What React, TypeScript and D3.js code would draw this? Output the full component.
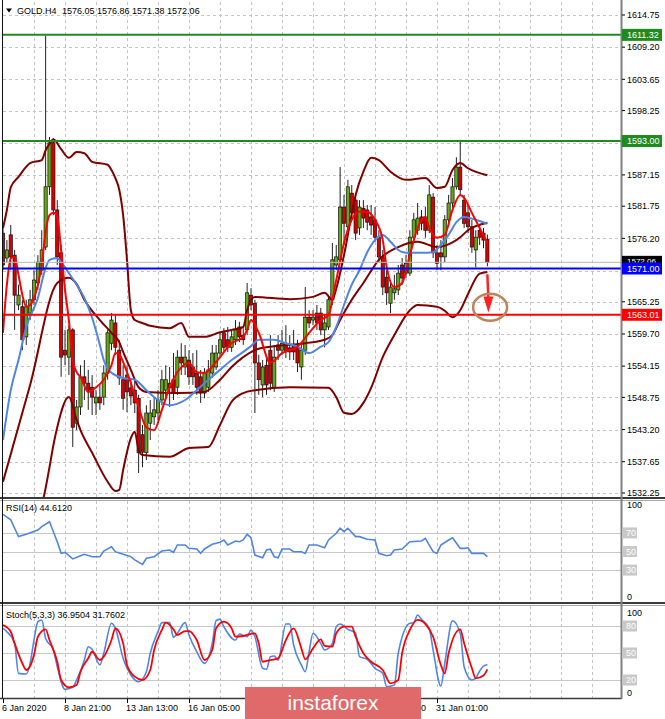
import React from 'react';
import * as d3 from 'd3';

// ---------- DATA ----------
const opens = [1577.1,1572.8,1576.8,1573.3,1564.7,1564.4,1559.2,1563.3,1565.6,1568.5,1570.7,1574.7,1585.1,1592.7,1581.1,1573.7,1556.9,1555.7,1560.4,1544.3,1547.1,1552.3,1551.2,1550.5,1547.8,1548.8,1548.8,1552.96,1558.1,1561.6,1556.9,1551.8,1552.6,1550.4,1550.0,1548.6,1542.3,1539.2,1544.3,1545.4,1546.06,1548.3,1550.0,1551.2,1551.8,1550.5,1555.7,1554.0,1555.2,1554.0,1552.96,1552.3,1549.5,1550.5,1552.96,1554.0,1556.4,1559.9,1558.7,1557.4,1558.7,1560.9,1559.5,1560.4,1566.4,1565.0,1554.7,1550.9,1554.3,1556.9,1550.5,1557.8,1556.9,1558.1,1557.3,1557.6,1557.3,1554.0,1556.9,1562.6,1562.1,1563.3,1563.3,1560.4,1560.9,1565.6,1571.6,1572.5,1581.6,1578.2,1584.0,1582.8,1578.0,1581.4,1581.1,1579.9,1579.4,1576.4,1573.0,1569.5,1565.0,1566.8,1567.3,1571.6,1570.2,1570.2,1576.4,1577.6,1579.9,1579.9,1577.6,1583.3,1573.7,1573.7,1573.0,1579.4,1582.3,1585.1,1588.5,1582.8,1580.6,1578.2,1574.2,1577.6,1577.1,1576.05];
const highs = [1578.0,1575.9,1578.5,1574.2,1568.2,1565.6,1565.6,1567.3,1570.7,1573.3,1577.6,1611.2,1593.7,1593.5,1582.8,1575.05,1560.4,1561.2,1560.7,1548.3,1554.3,1555.2,1553.5,1552.6,1550.0,1550.9,1554.3,1560.4,1563.3,1563.0,1558.7,1554.3,1554.3,1551.8,1551.8,1549.2,1544.0,1547.4,1548.3,1548.8,1550.0,1553.5,1554.3,1554.0,1556.4,1556.9,1558.1,1557.8,1556.9,1556.4,1556.9,1553.5,1553.8,1555.2,1557.8,1557.8,1559.9,1560.7,1560.9,1560.4,1562.1,1561.8,1560.7,1568.5,1567.6,1565.6,1556.1,1555.2,1555.6,1559.5,1557.8,1559.5,1560.4,1561.2,1559.5,1560.4,1558.7,1557.8,1567.8,1563.8,1563.8,1564.7,1564.2,1563.0,1566.4,1575.4,1575.05,1588.5,1583.7,1586.3,1585.4,1583.7,1582.8,1582.8,1581.96,1581.96,1581.6,1577.6,1574.2,1570.7,1569.0,1569.9,1571.6,1572.8,1573.3,1577.6,1580.6,1582.3,1581.1,1581.6,1585.4,1584.0,1575.05,1575.9,1580.2,1583.7,1586.6,1590.2,1593.2,1583.7,1581.96,1579.4,1577.6,1578.5,1578.0,1576.86];
const lows = [1570.7,1572.1,1570.7,1560.4,1563.8,1556.9,1557.8,1562.1,1564.7,1567.3,1569.9,1574.2,1583.7,1580.2,1571.6,1552.3,1554.3,1552.6,1540.2,1543.1,1545.7,1548.3,1546.6,1545.7,1545.7,1546.6,1547.4,1551.8,1556.9,1556.07,1550.9,1546.6,1546.2,1547.4,1546.06,1535.7,1536.7,1537.95,1541.4,1544.0,1544.85,1547.4,1548.3,1547.1,1548.3,1549.2,1552.6,1552.6,1550.9,1550.9,1549.2,1547.8,1548.6,1549.7,1552.1,1553.5,1555.7,1556.6,1556.6,1556.6,1557.8,1558.3,1557.8,1559.5,1563.8,1546.06,1549.2,1548.8,1549.2,1550.0,1549.7,1555.2,1556.07,1555.55,1555.2,1555.2,1553.13,1551.8,1556.07,1560.7,1561.2,1560.4,1559.5,1557.4,1560.4,1564.7,1570.7,1572.1,1575.05,1577.3,1579.4,1575.9,1576.8,1578.0,1577.6,1576.8,1575.6,1572.1,1566.4,1564.7,1563.3,1565.6,1566.4,1568.2,1569.36,1569.7,1575.9,1576.8,1577.6,1576.3,1577.1,1572.8,1570.7,1570.7,1572.1,1578.5,1581.4,1584.6,1583.7,1578.0,1577.1,1573.7,1571.2,1575.05,1574.5,1571.38];
const closes = [1571.6,1574.2,1573.0,1566.4,1566.4,1558.7,1564.4,1565.6,1569.0,1572.1,1574.2,1585.1,1592.7,1581.1,1573.0,1555.7,1556.07,1560.4,1543.6,1547.1,1552.3,1551.2,1550.0,1548.8,1548.8,1547.8,1552.96,1559.9,1562.1,1557.4,1552.1,1548.6,1549.7,1549.0,1547.8,1539.2,1539.3,1546.06,1546.06,1546.6,1548.3,1551.8,1551.8,1550.4,1549.5,1555.7,1554.7,1555.7,1552.3,1552.3,1550.5,1549.5,1552.96,1553.5,1556.4,1556.4,1558.7,1557.4,1557.4,1559.2,1560.4,1559.2,1558.7,1566.8,1564.7,1554.7,1551.8,1554.0,1550.9,1551.2,1555.7,1556.9,1558.1,1556.6,1556.6,1556.6,1554.7,1556.9,1562.6,1561.6,1562.6,1561.6,1560.4,1561.6,1565.6,1572.5,1573.0,1581.6,1578.8,1585.1,1580.6,1577.1,1581.6,1579.7,1579.0,1578.5,1576.4,1573.0,1567.8,1566.8,1567.8,1567.5,1570.2,1569.36,1571.9,1576.4,1579.4,1579.7,1578.8,1577.6,1583.7,1573.7,1571.9,1573.0,1579.4,1582.3,1585.1,1588.5,1584.6,1578.8,1578.2,1574.7,1576.4,1576.4,1575.9,1572.06];

// Indicator series: [bar index, value]
const bbUpper = [[0,1578.0],[1,1581.1],[2,1585.0],[4,1586.8],[7,1589.2],[10,1589.7],[11,1591.4],[12,1592.5],[13,1593.3],[15,1591.6],[17,1590.1],[19,1591.1],[21,1590.9],[23,1589.4],[27,1588.9],[28,1588.0],[29,1586.6],[30,1584.6],[31,1580.2],[32,1572.5],[33,1563.8],[34,1562.1],[36,1561.6],[38,1561.1],[43,1560.7],[46,1561.6],[48,1559.2],[52,1559.2],[56,1560.0],[59,1560.4],[62,1560.9],[63,1563.8],[64,1565.6],[65,1566.1],[74,1565.7],[80,1566.1],[83,1566.8],[85,1565.6],[86,1567.5],[88,1573.3],[91,1583.7],[93,1587.7],[95,1590.1],[97,1589.7],[100,1587.7],[104,1586.3],[109,1586.6],[112,1584.9],[114,1585.1],[116,1588.0],[118,1589.2],[120,1588.3],[125,1587.1]];
const bbMiddle = [[0,1534.2],[7,1550.9],[14,1568.5],[17,1569.4],[19,1568.3],[21,1565.6],[25,1562.1],[28,1559.9],[30,1558.3],[31,1556.6],[33,1553.5],[35,1550.5],[37,1549.7],[45,1549.5],[52,1549.7],[56,1551.8],[59,1554.0],[62,1555.7],[65,1556.9],[69,1557.5],[78,1558.1],[83,1558.7],[85,1559.5],[87,1562.1],[90,1565.6],[93,1568.5],[97,1572.5],[102,1574.7],[107,1575.6],[112,1574.7],[116,1575.5],[118,1576.4],[120,1577.6],[125,1578.9]];
const bbLower = [[10,1530.0],[11,1533.1],[12,1536.7],[13,1540.5],[14,1543.6],[17,1548.8],[19,1544.9],[20,1543.1],[23,1539.2],[27,1534.2],[29,1532.6],[30,1532.8],[31,1536.2],[33,1541.7],[34,1542.8],[35,1539.7],[36,1538.8],[43,1538.5],[48,1540.0],[53,1540.2],[56,1544.0],[59,1548.0],[62,1549.5],[65,1550.0],[74,1550.5],[84,1550.4],[86,1548.8],[88,1546.1],[90,1545.9],[93,1547.8],[95,1550.4],[98,1555.7],[101,1559.5],[105,1563.8],[107,1564.7],[112,1564.4],[114,1563.7],[116,1562.6],[118,1563.8],[120,1566.6],[123,1570.1],[125,1570.4]];
const maBlue = [[0,1541.4],[2,1550.0],[4,1555.2],[6,1560.9],[9,1565.9],[11,1571.1],[12,1572.5],[14,1572.8],[15,1572.1],[17,1570.2],[19,1568.2],[21,1565.9],[23,1562.5],[25,1557.8],[26,1555.2],[28,1553.0],[31,1552.1],[34,1551.8],[37,1550.0],[40,1548.3],[43,1547.4],[47,1548.3],[50,1550.0],[53,1551.8],[56,1553.5],[59,1555.2],[62,1556.6],[64,1557.6],[66,1558.7],[70,1558.7],[73,1558.1],[76,1557.5],[79,1556.4],[82,1557.5],[84,1558.3],[86,1560.9],[88,1564.7],[90,1568.2],[92,1570.7],[94,1573.8],[96,1575.9],[98,1576.8],[100,1575.6],[102,1574.2],[104,1573.7],[108,1573.7],[111,1573.8],[113,1575.1],[115,1576.8],[117,1579.0],[119,1579.9],[122,1579.4],[125,1578.7]];
const maRed = [[0,1559.9],[1,1568.2],[2,1572.8],[3,1573.0],[4,1569.9],[5,1566.4],[6,1564.4],[7,1564.7],[8,1565.9],[9,1568.2],[10,1571.6],[11,1577.3],[12,1580.2],[13,1580.6],[14,1579.9],[15,1574.2],[16,1567.3],[17,1562.1],[18,1555.2],[19,1553.1],[20,1552.3],[22,1549.7],[24,1550.5],[26,1551.8],[28,1554.3],[29,1556.4],[30,1556.1],[32,1553.1],[34,1549.2],[35,1547.1],[37,1543.6],[39,1543.1],[41,1546.6],[43,1550.5],[45,1553.1],[48,1554.7],[50,1553.1],[52,1553.0],[55,1554.9],[59,1558.1],[62,1559.2],[63,1560.4],[64,1562.1],[66,1559.9],[69,1554.7],[72,1556.4],[76,1557.5],[79,1559.9],[82,1562.1],[84,1563.0],[86,1569.0],[88,1575.4],[90,1579.4],[92,1580.8],[94,1580.8],[96,1579.4],[98,1575.9],[99,1571.3],[101,1567.8],[103,1568.5],[105,1573.3],[107,1578.0],[109,1579.9],[110,1578.0],[112,1576.3],[114,1576.8],[116,1581.1],[118,1583.7],[119,1583.2],[121,1580.6],[123,1578.0],[125,1575.4]];
const rsiValues = [[0,90],[2,84],[3,75],[4,66],[6,68.5],[9,73],[10,76.7],[12,82],[13,71.3],[14,60.5],[15,48],[16,49],[18,42],[20,45.5],[21,47],[23,44.4],[25,44.4],[26,50.5],[28,55],[29,49.8],[31,47],[33,44.4],[34,40.9],[36,36.2],[37,42.7],[39,44.4],[41,50.5],[43,51.6],[44,49],[45,57],[47,57],[48,53.4],[50,52.7],[51,48],[52,52.7],[54,57.7],[56,59.9],[57,62.4],[58,57],[60,61.3],[61,60.5],[62,62.4],[63,68.5],[64,64.8],[65,46.2],[67,43.3],[68,51.6],[69,52.4],[70,44.4],[71,43.3],[72,52.7],[74,52.7],[75,49.8],[77,49.8],[78,48],[79,57],[81,57],[83,54],[84,62.4],[86,69.6],[87,75],[88,71.3],[89,75],[91,66],[92,66],[94,63.1],[96,62.4],[97,48],[99,45.5],[100,46.2],[101,51.6],[103,52.7],[105,60.5],[108,61.3],[109,64.2],[111,49.8],[112,48],[113,57],[115,62.4],[116,64.8],[118,53.4],[119,53.4],[120,54],[121,48],[123,48],[124,48],[125,44.61]];
const stochMain = [[0,77.4],[1,73.7],[3,60.7],[4,27.4],[6,26.7],[7,38.5],[8,64.4],[9,84.8],[10,86.7],[11,66.3],[13,53.3],[14,34.8],[16,9.6],[18,11.9],[19,20],[21,42.2],[22,57],[23,54.1],[25,36.7],[26,49.7],[28,83],[29,77.4],[31,44.1],[33,25.6],[35,18.1],[37,29.2],[38,49.7],[40,73.7],[41,83.7],[43,83.7],[44,67.4],[45,71.9],[47,83.7],[48,70],[50,51.4],[52,38.5],[54,60.7],[55,85.9],[56,87.4],[57,79.2],[60,64.4],[61,71.1],[63,68.1],[64,75.6],[65,68.1],[67,33],[68,31.9],[69,45.9],[70,46.7],[71,42.2],[73,82.2],[74,82.2],[75,58.9],[77,36.7],[78,29.2],[79,51.4],[80,71.9],[82,60.7],[83,53.3],[85,60.7],[86,79.2],[87,82.2],[89,76.3],[91,71.9],[92,45.9],[94,43],[96,33],[98,27.4],[99,12.6],[101,14.4],[102,49.7],[105,83],[106,83.7],[107,92.2],[108,87.4],[110,77.4],[111,53.3],[113,13.3],[114,38.5],[116,85.9],[118,71.9],[119,34.8],[121,20],[122,22],[123,30],[124,35.5],[125,36.95]];
const stochSignal = [[0,81],[2,73.7],[3,60.7],[5,38.5],[6,31.1],[8,47.8],[9,68.1],[11,76.3],[12,64.4],[14,40.3],[15,20],[17,11.9],[19,14.4],[20,29.2],[22,44.1],[23,51.4],[25,42.2],[26,45.9],[28,64.4],[29,77.4],[31,60.7],[32,36.7],[34,23.7],[36,20],[38,31.1],[39,53.3],[41,75.6],[42,83.7],[44,76.3],[45,70],[47,74.4],[48,74.4],[50,64.4],[52,42.2],[54,53.3],[55,77.4],[57,84.8],[59,77.4],[60,68.1],[62,68.9],[65,71.9],[66,60.7],[67,40.3],[69,42.2],[71,44.1],[73,64.4],[75,77.4],[77,55.2],[78,43],[80,55.2],[82,65.2],[83,57.8],[85,57],[86,71.9],[88,79.2],[90,79.2],[91,68.1],[93,49.7],[95,40.3],[98,31.1],[100,16.3],[102,20],[103,49.7],[105,75.6],[107,86.7],[109,82.2],[111,68.1],[113,36.7],[114,27.4],[115,49.7],[118,76.3],[119,60.7],[121,33],[122,21.9],[124,25],[125,31.76]];

const priceTicks = [1614.75,1609.20,1603.65,1598.25,1592.70,1587.15,1581.75,1576.20,1570.65,1565.25,1559.70,1554.15,1548.75,1543.20,1537.65,1532.25];
const timeLabels = ['6 Jan 2020','8 Jan 21:00','13 Jan 13:00','16 Jan 05:00','20 Jan 21:00','23 Jan 13:00','28 Jan 05:00','31 Jan 01:00'];
const timeLabelBars = [0,16,32,48,64,80,96,112];
const levelPrices = [1611.32, 1593.00, 1563.01, 1571.00];
const rsiLevels = [70, 50, 30];
const stochLevels = [80, 50, 20];
const rsiCurrent = 44.6120;
const stochCurrent = [36.9504, 31.7602];
const arrowPrices = [1570.0, 1563.4];
const circleCenter = [125.7, 1564.3];

// ---------- LAYOUT / STYLE ----------
const X0 = 3;
const BAR = 3.875;
const AXIS_X = 621;
const FONT = 'Liberation Sans, Arial, sans-serif';
const levelColors = ['#1f8b1f', '#1f8b1f', '#ff0000', '#0000ff'];
const BULL = '#64a814';
const BEAR = '#d80000';
const MAROON = '#800000';
const BLUE = '#4f85e6';
const WM = { x: 245, y: 687, w: 176 };

export default function App() {
  const last = closes.length - 1;
  const xs = d3.scaleLinear().domain([0, 125]).range([X0, X0 + 125 * BAR]);
  const y = d3.scaleLinear().domain([1532.25, 1614.75]).range([493, 15]);
  const yR = d3.scaleLinear().domain([0, 100]).range([598, 505]);
  const yS = d3.scaleLinear().domain([0, 100]).range([698, 608]);

  const mk = (sy: any, curve = true) => {
    const l = d3.line<number[]>().x(d => xs(d[0])).y(d => sy(d[1]));
    return curve ? l.curve(d3.curveMonotoneX) : l;
  };
  const lineMain = mk(y);
  const lineR = mk(yR, false);
  const lineS = mk(yS);

  const gridBars = d3.range(8, 153, 8);
  const fmt = (v: number) => v.toFixed(2);

  const tipX = xs(125) + 1;
  const tipY = y(arrowPrices[1]);

  // tick labels that sit under a level box are hidden in the reference
  const hiddenTick = (p: number) => levelPrices.some(l => Math.abs(y(l) - y(p)) < 6);
  // time labels entirely under the watermark are hidden in the reference
  const hiddenTime = (b: number) => xs(b) > WM.x && xs(b) + 55 < WM.x + WM.w;

  return (
    <svg width={665} height={719} style={{ position: 'absolute', left: 0, top: 0, background: '#fff' }} fontFamily={FONT}>
      <defs>
        <clipPath id="mainClip"><rect x={X0} y={2} width={AXIS_X - X0} height={495} /></clipPath>
        <clipPath id="rsiClip"><rect x={X0} y={501} width={AXIS_X - X0} height={101} /></clipPath>
        <clipPath id="stClip"><rect x={X0} y={606} width={AXIS_X - X0} height={92} /></clipPath>
      </defs>
      <rect x={0} y={0} width={665} height={719} fill="#fff" />

      {/* vertical grid */}
      {gridBars.map(b => (
        <g key={'vg' + b} stroke="#c4c4c4" strokeDasharray="3,3" strokeWidth={1}>
          <line x1={Math.round(xs(b)) + 0.5} x2={Math.round(xs(b)) + 0.5} y1={2} y2={497} />
          <line x1={Math.round(xs(b)) + 0.5} x2={Math.round(xs(b)) + 0.5} y1={501} y2={602} />
          <line x1={Math.round(xs(b)) + 0.5} x2={Math.round(xs(b)) + 0.5} y1={606} y2={698} />
        </g>
      ))}
      {/* horizontal grid main */}
      {priceTicks.map(p => (
        <line key={'hg' + p} x1={X0} x2={AXIS_X} y1={Math.round(y(p)) + 0.5} y2={Math.round(y(p)) + 0.5}
          stroke="#c4c4c4" strokeDasharray="3,3" />
      ))}

      {/* main panel contents */}
      <g clipPath="url(#mainClip)">
        {opens.map((o, i) => {
          const c = closes[i];
          const x = xs(i);
          const top = y(Math.max(o, c));
          const bot = y(Math.min(o, c));
          return (
            <g key={'c' + i}>
              <line x1={x} x2={x} y1={y(highs[i])} y2={y(lows[i])} stroke="#222" strokeWidth={1} />
              <rect x={x - 1.6} y={top} width={3.2} height={Math.max(1, bot - top)}
                fill={c >= o ? BULL : BEAR} stroke="#111" strokeWidth={0.7} />
            </g>
          );
        })}
        <path d={lineMain(bbUpper as any) || ''} fill="none" stroke={MAROON} strokeWidth={2} />
        <path d={lineMain(bbMiddle as any) || ''} fill="none" stroke={MAROON} strokeWidth={2} />
        <path d={lineMain(bbLower as any) || ''} fill="none" stroke={MAROON} strokeWidth={2} />
        <path d={lineMain(maBlue as any) || ''} fill="none" stroke={BLUE} strokeWidth={2} />
        <path d={lineMain(maRed as any) || ''} fill="none" stroke="#ff0000" strokeWidth={2} />
        {/* current price line */}
        <line x1={X0} x2={AXIS_X} y1={y(closes[last])} y2={y(closes[last])} stroke="#b8b8b8" strokeWidth={1} />
        {levelPrices.map((p, k) => (
          <line key={'lv' + p} x1={X0} x2={AXIS_X} y1={y(p)} y2={y(p)} stroke={levelColors[k]} strokeWidth={2} />
        ))}
        {/* arrow + circle annotation */}
        <line x1={xs(125)} y1={y(arrowPrices[0])} x2={tipX} y2={tipY - 14} stroke="#ff2020" strokeWidth={2.5} />
        <path d={`M${tipX - 5},${tipY - 16} L${tipX + 5},${tipY - 16} L${tipX},${tipY} Z`} fill="#ff2020" />
        <ellipse cx={xs(circleCenter[0])} cy={y(circleCenter[1])} rx={17} ry={13.5} fill="none" stroke="#c0825a" strokeWidth={2.5} />
      </g>

      {/* header */}
      <path d="M6,8.5 L12,8.5 L9,12.5 Z" fill="#000" />
      <text x={17} y={14} fontSize={9} fill="#000">GOLD.H4</text>
      <text x={62} y={14} fontSize={9} fill="#000">
        {`${fmt(opens[last])} ${fmt(highs[last])} ${fmt(lows[last])} ${fmt(closes[last])}`}
      </text>

      {/* RSI panel */}
      {rsiLevels.map(v => (
        <line key={'rl' + v} x1={X0} x2={AXIS_X} y1={Math.round(yR(v)) + 0.5} y2={Math.round(yR(v)) + 0.5} stroke="#c8c8c8" strokeWidth={1} />
      ))}
      <g clipPath="url(#rsiClip)">
        <path d={lineR(rsiValues as any) || ''} fill="none" stroke={BLUE} strokeWidth={1.6} />
      </g>
      <text x={6} y={511} fontSize={9} fill="#000">{`RSI(14) ${rsiCurrent.toFixed(4)}`}</text>

      {/* Stoch panel */}
      {stochLevels.map(v => (
        <line key={'sl' + v} x1={X0} x2={AXIS_X} y1={Math.round(yS(v)) + 0.5} y2={Math.round(yS(v)) + 0.5} stroke="#c8c8c8" strokeWidth={1} />
      ))}
      <g clipPath="url(#stClip)">
        <path d={lineS(stochMain as any) || ''} fill="none" stroke={BLUE} strokeWidth={1.6} />
        <path d={lineS(stochSignal as any) || ''} fill="none" stroke="#ff0000" strokeWidth={1.8} />
      </g>
      <text x={6} y={618} fontSize={9} fill="#000">{`Stoch(5,3,3) ${stochCurrent[0].toFixed(4)} ${stochCurrent[1].toFixed(4)}`}</text>

      {/* separators and frame */}
      <line x1={0} x2={665} y1={498} y2={498} stroke="#3a3a3a" strokeWidth={2} />
      <line x1={0} x2={665} y1={500.5} y2={500.5} stroke="#a8a8a8" strokeWidth={1} />
      <line x1={0} x2={665} y1={603} y2={603} stroke="#3a3a3a" strokeWidth={2} />
      <line x1={0} x2={665} y1={605.5} y2={605.5} stroke="#a8a8a8" strokeWidth={1} />
      <line x1={0} x2={AXIS_X + 1} y1={698.5} y2={698.5} stroke="#3a3a3a" strokeWidth={1.5} />
      <line x1={2.5} x2={2.5} y1={0} y2={698} stroke="#111" strokeWidth={1} />
      <line x1={AXIS_X + 0.5} x2={AXIS_X + 0.5} y1={0} y2={699} stroke="#808080" strokeWidth={2} />

      {/* price axis */}
      {priceTicks.map(p => (
        <g key={'pt' + p}>
          <line x1={AXIS_X + 1} x2={AXIS_X + 4} y1={y(p)} y2={y(p)} stroke="#000" />
          {!hiddenTick(p) && <text x={627} y={y(p) + 3.2} fontSize={9} fill="#000">{fmt(p)}</text>}
        </g>
      ))}
      {/* current price box (partly covered by the 1571.00 box, as in the reference) */}
      <rect x={AXIS_X + 1} y={y(closes[last]) - 6.5} width={40} height={11} fill="#000" />
      <text x={627} y={y(closes[last]) + 1.5} fontSize={8} fill="#fff">{fmt(closes[last])}</text>
      {levelPrices.map((p, k) => (
        <g key={'lb' + p}>
          <rect x={AXIS_X + 1} y={y(p) - 6} width={40} height={12} fill={levelColors[k]} />
          <text x={627} y={y(p) + 3.3} fontSize={9} fill="#fff">{fmt(p)}</text>
        </g>
      ))}

      {/* RSI axis */}
      <text x={627} y={508} fontSize={9} fill="#000">100</text>
      <text x={627} y={600} fontSize={9} fill="#000">0</text>
      {rsiLevels.map(v => (
        <g key={'rlb' + v}>
          <rect x={AXIS_X + 1} y={yR(v) - 5.5} width={15} height={11} fill="#c8c8c8" />
          <text x={626} y={yR(v) + 3.2} fontSize={9} fill="#fff">{v}</text>
        </g>
      ))}
      {/* Stoch axis */}
      <text x={627} y={616} fontSize={9} fill="#000">100</text>
      <text x={627} y={696} fontSize={9} fill="#000">0</text>
      {stochLevels.map(v => (
        <g key={'slb' + v}>
          <rect x={AXIS_X + 1} y={yS(v) - 5.5} width={15} height={11} fill="#c8c8c8" />
          <text x={626} y={yS(v) + 3.2} fontSize={9} fill="#fff">{v}</text>
        </g>
      ))}

      {/* time axis */}
      {timeLabelBars.map((b, k) => (
        <g key={'tl' + b}>
          <line x1={Math.round(xs(b)) + 0.5} x2={Math.round(xs(b)) + 0.5} y1={699} y2={703} stroke="#000" />
          {!hiddenTime(b) && <text x={xs(b) - 1} y={711} fontSize={9} fill="#000">{timeLabels[k]}</text>}
        </g>
      ))}

      {/* watermark */}
      <rect x={WM.x} y={WM.y} width={WM.w} height={719 - WM.y} fill="#e06a6a" />
      <text x={WM.x + WM.w / 2} y={710} fontSize={21} fill="#fff" textAnchor="middle">instaforex</text>
    </svg>
  );
}
